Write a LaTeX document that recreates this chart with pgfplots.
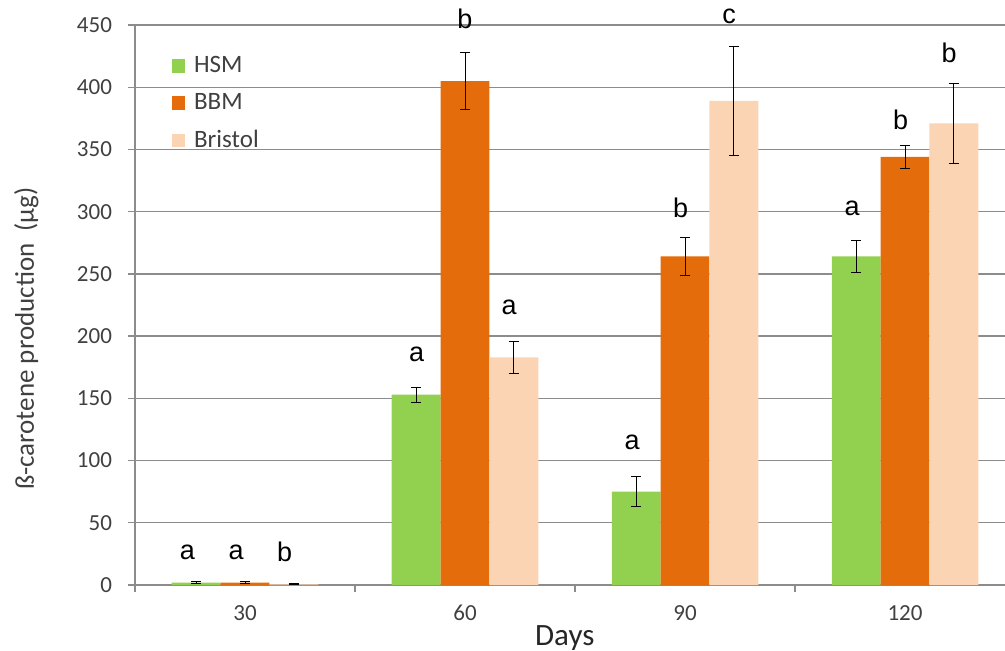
\documentclass[border=0pt]{standalone}
\usepackage{pgfplots}
\usepackage{pgfplotstable}
\pgfplotsset{compat=1.18}
\usepackage{fontspec}
\setmainfont{Carlito}
\newfontfamily\letterfont{Liberation Sans}

\definecolor{hsm}{HTML}{92D050}
\definecolor{bbm}{HTML}{E46C0A}
\definecolor{bristol}{HTML}{FBD4B4}
\definecolor{gridgray}{HTML}{8C8C8C}
\definecolor{labelgray}{HTML}{404040}

% day index, mean and standard deviation for each medium
\pgfplotstableread{
x  hsm  hsmerr  bbm  bbmerr  bris  briserr
0  2    0.8     2    0.5     0.5   0.4
1  153  6       405  23      183   13
2  75   12      264  15      389   44
3  264  13      344  9       371   32
}\carotene

\begin{document}
\begin{tikzpicture}
\useasboundingbox (-67.5pt,-32.5pt) rectangle (435pt,292.5pt);
\begin{axis}[
  scale only axis,
  width=435pt, height=280pt,
  xmin=-0.5, xmax=3.4545,
  ymin=0, ymax=450,
  axis x line*=bottom,
  axis y line*=left,
  axis line style={gridgray, line width=0.7pt},
  ytick={0,50,...,450},
  ymajorgrids,
  grid style={gridgray, line width=0.7pt},
  xtick={0,1,2,3},
  xticklabels={30,60,90,120},
  minor xtick={-0.5,0.5,1.5,2.5},
  tick align=outside,
  major tick length=3.5pt,
  minor tick length=3.5pt,
  major x tick style={draw=none},
  y tick style={gridgray, line width=0.7pt},
  minor x tick style={gridgray, line width=0.7pt},
  /pgf/number format/assume math mode=true,
  tick label style={font=\fontsize{11.5}{13}\selectfont, text=labelgray},
  xticklabel style={yshift=-3pt},
  yticklabel style={xshift=-4.5pt},
  ylabel={ß-carotene production~~(µg)},
  ylabel style={at={(axis description cs:-0.125,0.44)}, anchor=center, font=\fontsize{13.5}{15}\selectfont, text=labelgray},
  xlabel={Days},
  xlabel style={at={(axis description cs:0.494,-0.094)}, anchor=center, font=\fontsize{15.5}{17}\selectfont, text=black!85},
  ybar,
  bar width=0.222,
  clip=false,
  legend style={at={(axis description cs:0.042,0.952)}, anchor=north west,
    draw=none, fill=none, font=\fontsize{12.5}{14}\selectfont, text=labelgray,
    row sep=5pt, inner sep=0pt,
    /tikz/every odd column/.append style={column sep=2.5pt}},
  legend cell align=left,
  legend image code/.code={\fill[#1, draw=none] (0pt,-3.3pt) rectangle (6.6pt,3.3pt);},
  error bars/y dir=both,
  error bars/y explicit,
  error bars/error mark options={rotate=90, black, mark size=2.5pt, line width=0.5pt},
  error bars/error bar style={black, line width=0.5pt},
]
\addplot[fill=hsm, draw=none, bar shift=-0.222]
  table[x=x, y=hsm, y error=hsmerr] {\carotene};
\addplot[fill=bbm, draw=none, bar shift=0]
  table[x=x, y=bbm, y error=bbmerr] {\carotene};
\addplot[fill=bristol, draw=none, bar shift=0.222]
  table[x=x, y=bris, y error=briserr] {\carotene};
\legend{HSM, BBM, Bristol}

% significance letters above each bar
\begin{scope}[every node/.style={font=\letterfont\fontsize{13.5}{14}\selectfont, text=black}]
\node at (axis cs:-0.262,26.5) {a};
\node at (axis cs:-0.04,26.5) {a};
\node at (axis cs:0.18,26.5) {b};
\node at (axis cs:0.78,185) {a};
\node at (axis cs:1.0,455) {b};
\node at (axis cs:1.20,223) {a};
\node at (axis cs:1.76,115) {a};
\node at (axis cs:1.98,303) {b};
\node at (axis cs:2.2,457) {c};
\node at (axis cs:2.76,303) {a};
\node at (axis cs:2.98,374) {b};
\node at (axis cs:3.2,428) {b};
\end{scope}
\end{axis}
\end{tikzpicture}
\end{document}
